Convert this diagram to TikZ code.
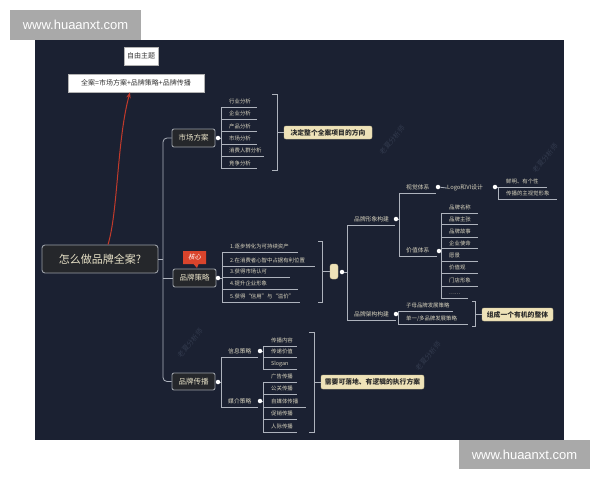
\documentclass[tikz,border=0pt]{standalone}
\usepackage{fontspec}
\setmainfont{Noto Sans CJK SC}
\newfontfamily\wmfont{Liberation Sans}
\newfontfamily\slantcjk[FakeSlant=0.25]{Noto Sans CJK SC}
\usetikzlibrary{shapes.callouts,arrows.meta}
\definecolor{panel}{HTML}{1B2132}
\definecolor{linec}{HTML}{AEB3BD}
\definecolor{leaftxt}{HTML}{D9D4BF}
\definecolor{topicfill}{HTML}{25272B}
\definecolor{topicdraw}{HTML}{9A9EA6}
\definecolor{topictxt}{HTML}{E6E0C6}
\definecolor{summfill}{HTML}{EEE2B8}
\definecolor{summdraw}{HTML}{D6C99C}
\definecolor{summtxt}{HTML}{2A2A2A}
\definecolor{redc}{HTML}{D9442C}
\definecolor{redl}{HTML}{C23A2B}
\definecolor{wmc}{HTML}{323A4D}
\definecolor{graybox}{HTML}{A9A9A9}
\newcommand\leaffont{\fontsize{5.4}{6}\selectfont}
\newcommand\labfont{\fontsize{5.8}{6.5}\selectfont}
\newcommand\topicfont{\fontsize{7.5}{8}\selectfont}
\newcommand\rootfont{\fontsize{11}{12}\selectfont}
\newcommand\summfont{\fontsize{6.8}{7.5}\selectfont\bfseries}
\newcommand\wbfont{\fontsize{7}{8}\selectfont}
\newcommand\wmcfont{\fontsize{7}{8}\selectfont}
% leaf: name, x, yline, width, text
\newcommand\lf[5]{%
  \node[leaf,text width=#4pt] (#1) at (#2,#3) {\hspace*{8pt}#5};
  \draw[conn] (#1.south west) -- (#1.south east);}
\newcommand\lb[5]{%
  \node[lab,text width=#4pt] (#1) at (#2,#3) {\hspace*{7pt}#5};
  \draw[conn] (#1.south west) -- (#1.south east);}
% bracket: name, xl, xr, ytop, ybot
\newcommand\brk[5]{%
  \coordinate (#1t) at (#2,#4); \coordinate (#1x) at (#3,#4);
  \coordinate (#1y) at (#3,#5); \coordinate (#1b) at (#2,#5);
  \draw[conn] (#1t) -- (#1x) -- (#1y) -- (#1b);}
\begin{document}
\begin{tikzpicture}[x=1pt,y=-1pt,
  conn/.style={draw=linec, line width=0.8pt},
  leaf/.style={anchor=south west, inner xsep=0pt, inner ysep=2pt, text depth=1pt, text height=4.5pt, font=\leaffont, text=leaftxt, align=left},
  lab/.style={leaf, font=\labfont},
  topic/.style={draw=topicdraw, fill=topicfill, text=topictxt, rounded corners=2pt, line width=0.9pt, inner sep=0pt, font=\topicfont},
  summ/.style={fill=summfill, draw=summdraw, text=summtxt, rounded corners=2pt, inner sep=0pt, font=\summfont},
  wbox/.style={fill=white, draw=gray!60, text=black!80, inner sep=0pt, font=\wbfont},
  dotn/.style={circle, fill=white, inner sep=0pt, minimum size=4.5pt},
  wmk/.style={text=wmc, font=\wmcfont, rotate=50, inner sep=0pt},
  gbox/.style={fill=graybox, text=white, inner sep=0pt, font=\wmfont\fontsize{13}{14}\selectfont},
  callnode/.style={rectangle callout, fill=redc, text=white, minimum width=23pt, minimum height=13pt, inner sep=0pt, font=\slantcjk\fontsize{6.5}{7}\selectfont, callout absolute pointer={(197,268)}, callout pointer width=5pt},
]
\useasboundingbox (0,0) rectangle (600,480);
\fill[white] (0,0) rectangle (600,480);
\fill[panel] (35,40) rectangle (564,440);

% faint watermarks
\node[wmk] (wa) at (392,140) {老夏分析师};
\node[wmk] (wb) at (545,158) {老夏分析师};
\node[wmk] (wc) at (190,343) {老夏分析师};
\node[wmk] (wd) at (428,356) {老夏分析师};

% top boxes
\node[wbox, minimum width=34pt, minimum height=18pt] (free) at (141,56) {自由主题};
\node[wbox, minimum width=136pt, minimum height=18pt] (qa) at (136,83) {全案=市场方案+品牌策略+品牌传播};

% root and main topics
\node[topic, font=\rootfont, rounded corners=3pt, minimum width=116pt, minimum height=28pt] (root) at (100,259) {怎么做品牌全案?};
\draw[redl, line width=1pt, -{Stealth[length=6pt,width=4.5pt]}] ([xshift=8pt]root.north) .. controls (118,212) and (117,140) .. ([xshift=-6pt]qa.south);

\node[topic, minimum width=43pt, minimum height=18pt] (m1) at (193.5,138) {市场方案};
\node[topic, minimum width=43pt, minimum height=18pt] (m2) at (194.5,278) {品牌策略};
\node[topic, minimum width=43pt, minimum height=17pt] (m3) at (193.5,381.5) {品牌传播};
\node[callnode] (hx) at (194.5,257.5) {核心};

\coordinate (cA) at (163,259);
\draw[conn, rounded corners=4pt] (m1.west) -| (cA) |- (m3.west);
\draw[conn] (root.east) -- (root.east -| cA);
\draw[conn] (m2.west) -- (m2.west -| cA);

\node[dotn] (d1) at (218,138) {};
\node[dotn] (d2) at (218,278) {};
\node[dotn] (d3) at (218,382) {};

% ---- 市场方案 ----
\lf{a1}{221}{107}{36}{行业分析}
\lf{a2}{221}{119}{36}{企业分析}
\lf{a3}{221}{131.5}{36}{产品分析}
\lf{a4}{221}{144}{36}{市场分析}
\lf{a5}{221}{156}{43}{消费人群分析}
\lf{a6}{221}{168.5}{36}{竞争分析}
\draw[conn] (a1.south west) -- (a6.south west);
\draw[conn] (d1) -- (d1 -| a1.south west);
\brk{bA}{272}{277}{94}{170}
\node[summ, minimum width=88pt, minimum height=13pt] (sA) at (328,132.5) {决定整个全案项目的方向};
\draw[conn] (sA.west) -- (sA.west -| bAx);

% ---- 品牌策略 ----
\lf{b1}{222}{252}{76}{1.逐步转化为可持续资产}
\lf{b2}{222}{266}{93}{2.在消费者心智中占据有利位置}
\lf{b3}{222}{277}{68}{3.获得市场认可}
\lf{b4}{222}{289}{76}{4.提升企业形象}
\lf{b5}{222}{302}{78}{5.获得“信用”与“溢价”}
\draw[conn] (b1.south west) -- (b5.south west);
\draw[conn] (d2) -- (d2 -| b1.south west);
\brk{bB}{318}{322}{241}{302}
\node[summ, minimum width=8pt, minimum height=15pt, rounded corners=2.5pt] (sB) at (334,271.5) {};
\draw[conn] (sB.west) -- (sB.west -| bBx);
\node[dotn] (d4) at (342,272) {};

\lb{c1}{347}{225}{48}{品牌形象构建}
\lb{c2}{347}{320}{49}{品牌架构构建}
\draw[conn, rounded corners=4pt] (c1.south west) -- (c2.south west);
\draw[conn] (d4) -- (d4 -| c1.south west);
\node[dotn] (d5) at (396,219) {};
\node[dotn] (d9) at (396,314) {};

% 视觉体系 / 价值体系
\lb{e1}{399}{193}{37}{视觉体系}
\lb{e2}{399}{256}{38}{价值体系}
\draw[conn] (e1.south west) -- (e2.south west);
\draw[conn] (d5) -- (d5 -| e1.south west);
\node[dotn] (d6) at (438,187) {};
\node[dotn] (d8) at (439,251) {};

\node[leaf, font=\labfont] (logo) at (447,193) {Logo和VI设计};
\node[dotn] (d7) at (495,187) {};
\draw[conn] (d6) -- (logo.west);
\lf{f1}{498}{187}{49}{鲜明、有个性}
\lf{f2}{498}{199}{59}{传播的主视觉形象}
\draw[conn] (f1.south west) -- (f2.south west);
\draw[conn] (d7) -- (f1.south west);

\lf{g1}{441}{213}{37}{品牌名称}
\lf{g2}{441}{224.5}{37}{品牌主张}
\lf{g3}{441}{237}{37}{品牌故事}
\lf{g4}{441}{248.5}{37}{企业使命}
\lf{g5}{441}{261}{37}{愿景}
\lf{g6}{441}{273}{37}{价值观}
\lf{g7}{441}{286}{37}{门店形象}
\lf{g8}{441}{298}{27}{……}
\draw[conn] (g1.south west) -- (g8.south west);
\draw[conn] (d8) -- (d8 -| g1.south west);

% 品牌架构构建
\lf{h1}{398}{311}{55}{子母品牌发展策略}
\lf{h2}{398}{324}{70}{单一/多品牌发展策略}
\draw[conn] (h1.south west) -- (h2.south west);
\draw[conn] (d9) -- (d9 -| h1.south west);
\brk{bC}{472}{475}{301}{326}
\node[summ, minimum width=71pt, minimum height=13pt] (sC) at (517.5,314.5) {组成一个有机的整体};
\draw[conn] (sC.west) -- (sC.west -| bCx);

% ---- 品牌传播 ----
\lb{i1}{221}{357}{37}{信息策略}
\lb{i2}{221}{407}{37}{媒介策略}
\draw[conn] (i1.south west) -- (i2.south west);
\draw[conn] (d3) -- (d3 -| i1.south west);
\node[dotn] (d10) at (260,351) {};
\node[dotn] (d11) at (260,401) {};

\lf{j1}{263}{346}{34}{传播内容}
\lf{j2}{263}{357}{34}{传递价值}
\lf{j3}{263}{369}{34}{Slogan}
\draw[conn] (j1.south west) -- (j3.south west);
\draw[conn] (d10) -- (d10 -| j1.south west);

\lf{k1}{263}{382}{34}{广告传播}
\lf{k2}{263}{394}{34}{公关传播}
\lf{k3}{263}{407}{43}{自媒体传播}
\lf{k4}{263}{419}{34}{促销传播}
\lf{k5}{263}{432}{34}{人际传播}
\draw[conn] (k1.south west) -- (k5.south west);
\draw[conn] (d11) -- (d11 -| k1.south west);
\brk{bD}{309}{314}{332}{432}
\node[summ, minimum width=103pt, minimum height=14pt] (sD) at (372.5,382) {需要可落地、有逻辑的执行方案};
\draw[conn] (sD.west) -- (sD.west -| bDx);

% site watermarks
\node[gbox, minimum width=131pt, minimum height=30pt] (gw1) at (75.5,25) {www.huaanxt.com};
\node[gbox, minimum width=131pt, minimum height=29pt] (gw2) at (524.5,454.5) {www.huaanxt.com};
\end{tikzpicture}
\end{document}
